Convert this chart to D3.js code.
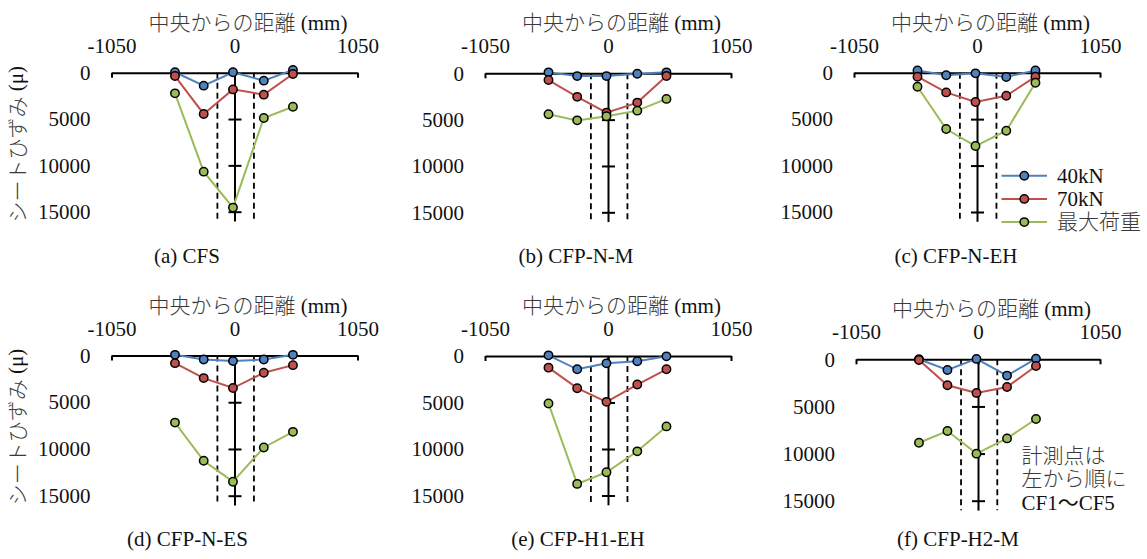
<!DOCTYPE html>
<html>
<head>
<meta charset="utf-8">
<script src="https://cdn.jsdelivr.net/npm/d3@7"></script>
<style>
  body { margin: 0; background: #fff; }
  svg text { font-family: "Liberation Serif", "Noto Sans CJK JP", serif; fill: #111; }
  svg tspan.jp { font-family: "Noto Sans CJK JP", sans-serif; font-weight: 300; fill: #3a3a3a; }
</style>
</head>
<body>
<div id="chart"></div>
<script>
// ---- data ----
var panelNames = ["(a) CFS", "(b) CFP-N-M", "(c) CFP-N-EH", "(d) CFP-N-ES", "(e) CFP-H1-EH", "(f) CFP-H2-M"];
var gaugeX = [-508, -263, -13, 250, 499];       // CF1..CF5 (mm)
var dashX = [-146, 166];                         // dashed guide lines (mm)
var xTicks = [-1050, 0, 1050];
var yLabels = [0, 5000, 10000, 15000];
var yTicks = [5000, 10000, 15000];
var yMax = 16000;
var seriesNames = ["40kN", "70kN", "最大荷重"];
var seriesColors = ["#4F81BD", "#C0504D", "#9BBB59"];

var strain40 = [
  [-50, 1400, -50, 860, -300],
  [-100, 300, 300, 50, -100],
  [-250, 280, 70, 460, -250],
  [-70, 430, 600, 430, -70],
  [-70, 1430, 790, 570, 40],
  [0, 1130, -40, 1730, -70]
];
var strain70 = [
  [360, 4450, 1800, 2370, 140],
  [730, 2540, 4240, 3160, 290],
  [430, 2120, 3160, 2480, 430],
  [820, 2420, 3480, 1850, 1030],
  [1250, 3460, 4930, 3070, 1430],
  [70, 2760, 3570, 2940, 710]
];
var strainMax = [
  [2230, 10680, 14560, 4890, 3670],
  [4420, 5080, 4640, 4030, 2760],
  [1510, 6070, 7900, 6250, 1080],
  [7180, 11260, 13500, 9840, 8170],
  [5110, 13750, 12500, 10250, 7570],
  [8850, 7610, 10010, 8390, 6330]
];
var noteLines = ["計測点は", "左から順に", "CF1〜CF5"];

// ---- layout of the six panels ----
var layout = [
  {x0: 111.5, x1: 357.5, y0: 72.7, y15: 211.7, cap: 187, capY: 257, yTitle: true},
  {x0: 485, x1: 731, y0: 73.3, y15: 212.3, cap: 576, capY: 257},
  {x0: 854, x1: 1100, y0: 72.7, y15: 212, cap: 956, capY: 257},
  {x0: 111.5, x1: 357.5, y0: 355.5, y15: 495.7, cap: 187.5, capY: 540, yTitle: true},
  {x0: 485, x1: 731, y0: 356, y15: 495.5, cap: 578, capY: 540},
  {x0: 856, x1: 1100, y0: 359.3, y15: 500.7, cap: 958, capY: 540}
];

var svg = d3.select("#chart").append("svg")
    .attr("width", 1147)
    .attr("height", 559);

var fontSize = 21;

function fixFont(g) {
  g.attr("font-family", null).attr("font-size", fontSize);
}

// writes mixed text: Japanese runs get their own tspan
function mixedText(sel, str) {
  var parts = str.match(/[\u3000-\u30ff\u4e00-\u9fff]+|[^\u3000-\u30ff\u4e00-\u9fff]+/g);
  parts.forEach(function(t) {
    var jp = /[\u3000-\u30ff\u4e00-\u9fff]/.test(t) && t !== "〜";
    sel.append("tspan").attr("class", jp ? "jp" : null).text(t);
  });
}

panelNames.forEach(function(name, p) {
  var L = layout[p];
  var x = d3.scaleLinear().domain([-1050, 1050]).range([L.x0, L.x1]);
  var y = d3.scaleLinear().domain([0, 15000]).range([L.y0, L.y15]);
  var g = svg.append("g");

  // x axis (labels on top, ticks pointing down)
  var gx = g.append("g")
      .attr("transform", "translate(0," + y(0) + ")")
      .call(d3.axisTop(x).tickValues(xTicks).tickSizeInner(-5).tickSizeOuter(0).tickPadding(20)
            .tickFormat(function(d) { return String(d); }));
  fixFont(gx);
  gx.selectAll("path, line").attr("stroke", "#000").attr("stroke-width", 2);
  gx.selectAll("text").attr("fill", "#111");

  // axis title
  var t = g.append("text")
      .attr("x", x(0) + 13.5)
      .attr("y", y(0) - 51 + 8)
      .attr("text-anchor", "middle")
      .attr("font-size", fontSize);
  mixedText(t, "中央からの距離 (mm)");

  // vertical axis at x = 0 with cross ticks
  var yAxisScale = y.copy().domain([0, yMax]).range([y(0), y(yMax)]);
  var gy = g.append("g")
      .attr("transform", "translate(" + x(0) + ",0)")
      .call(d3.axisLeft(yAxisScale).tickValues(yTicks).tickSizeOuter(0).tickFormat(""));
  gy.selectAll("path, line").attr("stroke", "#000").attr("stroke-width", 2);
  gy.selectAll(".tick line").attr("x1", -6).attr("x2", 7);

  // y labels on the left
  var gl = g.append("g")
      .attr("transform", "translate(" + (L.x0 - 21) + ",0)")
      .call(d3.axisLeft(y).tickValues(yLabels).tickSize(0).tickPadding(0)
            .tickFormat(function(d) { return String(d); }));
  fixFont(gl);
  gl.select(".domain").remove();
  gl.selectAll("text").attr("fill", "#111");

  if (L.yTitle) {
    var yt = g.append("text")
      .attr("transform", "translate(16," + (y(0) + 71.5) + ") rotate(-90)")
      .attr("text-anchor", "middle")
      .attr("dominant-baseline", "central")
      .attr("font-size", fontSize);
    mixedText(yt, "シートひずみ (μ)");
  }

  // dashed guides
  g.selectAll(".dash")
    .data(dashX)
    .enter().append("line")
      .attr("x1", function(d) { return x(d); })
      .attr("x2", function(d) { return x(d); })
      .attr("y1", y(0))
      .attr("y2", y(yMax))
      .attr("stroke", "#000")
      .attr("stroke-width", 1.8)
      .attr("stroke-dasharray", "6,4");

  // series
  var allSeries = [strain40[p], strain70[p], strainMax[p]];
  var line = d3.line()
      .x(function(d, i) { return x(gaugeX[i]); })
      .y(function(d) { return y(d); });

  allSeries.forEach(function(vals, s) {
    g.append("path")
      .datum(vals)
      .attr("d", line)
      .attr("fill", "none")
      .attr("stroke", seriesColors[s])
      .attr("stroke-width", 2);
    g.selectAll(".pt" + s)
      .data(vals)
      .enter().append("circle")
        .attr("cx", function(d, i) { return x(gaugeX[i]); })
        .attr("cy", function(d) { return y(d); })
        .attr("r", 4.2)
        .attr("fill", seriesColors[s])
        .attr("stroke", "#000")
        .attr("stroke-width", 1.5);
  });

  // caption
  g.append("text")
      .attr("x", L.cap)
      .attr("y", L.capY + 6)
      .attr("text-anchor", "middle")
      .attr("font-size", fontSize)
      .text(name);
});

// legend (panel c)
var legend = svg.append("g");
seriesNames.forEach(function(n, i) {
  var ly = 175.7 + i * 23.2;
  legend.append("line")
    .attr("x1", 1001.5).attr("x2", 1047)
    .attr("y1", ly).attr("y2", ly)
    .attr("stroke", seriesColors[i]).attr("stroke-width", 2);
  legend.append("circle")
    .attr("cx", 1024.3).attr("cy", ly).attr("r", 4.2)
    .attr("fill", seriesColors[i]).attr("stroke", "#000").attr("stroke-width", 1.5);
  var lt = legend.append("text")
    .attr("x", 1057).attr("y", ly + 7)
    .attr("font-size", fontSize);
  mixedText(lt, n);
});

// note (panel f)
noteLines.forEach(function(t, i) {
  var nt = svg.append("text")
    .attr("x", 1021.5)
    .attr("y", 455 + i * 23.9 + 7.5)
    .attr("font-size", fontSize);
  mixedText(nt, t);
});
</script>
</body>
</html>
